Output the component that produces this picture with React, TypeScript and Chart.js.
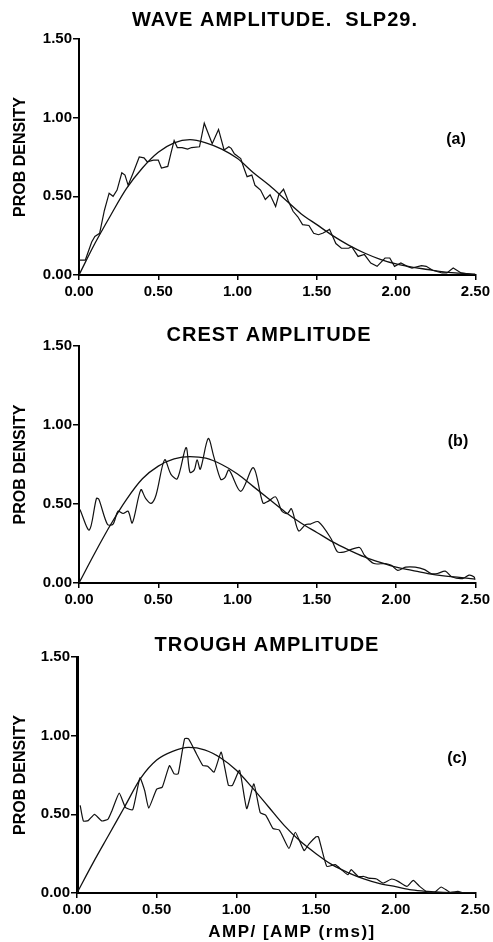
import React, { useEffect, useRef } from 'react';
import { Chart, registerables } from 'chart.js';
Chart.register(...registerables);

const FONT = '"Liberation Sans", Arial, Helvetica, sans-serif';

// ---- shared axis values ----
const X_MIN = 0;
const X_MAX = 2.5;
const Y_MIN = 0;
const Y_MAX = 1.5;
const TICK_STEP = 0.5;

// ---- theoretical (smooth) curve sample positions ----
const smoothX = [0, 0.1, 0.2, 0.3, 0.4, 0.5, 0.6, 0.7, 0.8, 0.9, 1.0, 1.1, 1.2, 1.3, 1.4, 1.5, 1.6, 1.7, 1.8, 1.9, 2.0, 2.1, 2.2, 2.3, 2.4, 2.5];

// ---- (a) wave amplitude ----
const waveX = [0.005, 0.04, 0.08, 0.10, 0.13, 0.16, 0.19, 0.215, 0.24, 0.27, 0.29, 0.31, 0.34, 0.38, 0.41, 0.43, 0.47, 0.50, 0.52, 0.56, 0.58, 0.60, 0.62, 0.65, 0.685, 0.71, 0.76, 0.79, 0.84, 0.88, 0.915, 0.945, 0.96, 0.98, 1.02, 1.04, 1.06, 1.09, 1.11, 1.145, 1.175, 1.205, 1.24, 1.26, 1.29, 1.32, 1.35, 1.38, 1.41, 1.45, 1.48, 1.51, 1.54, 1.58, 1.62, 1.655, 1.70, 1.72, 1.76, 1.80, 1.84, 1.88, 1.93, 1.96, 1.99, 2.03, 2.07, 2.10, 2.16, 2.19, 2.23, 2.29, 2.32, 2.36, 2.41, 2.50];
const waveY = [0.095, 0.095, 0.21, 0.245, 0.265, 0.41, 0.52, 0.50, 0.54, 0.65, 0.635, 0.57, 0.645, 0.75, 0.745, 0.72, 0.73, 0.73, 0.68, 0.69, 0.775, 0.855, 0.81, 0.81, 0.80, 0.81, 0.815, 0.965, 0.835, 0.925, 0.795, 0.815, 0.805, 0.77, 0.74, 0.68, 0.625, 0.635, 0.57, 0.54, 0.48, 0.51, 0.435, 0.51, 0.545, 0.47, 0.405, 0.37, 0.32, 0.315, 0.265, 0.256, 0.267, 0.29, 0.20, 0.17, 0.17, 0.18, 0.118, 0.13, 0.076, 0.055, 0.108, 0.108, 0.055, 0.076, 0.055, 0.044, 0.06, 0.055, 0.03, 0.013, 0.013, 0.044, 0.013, 0.0];
const waveTheory = [0, 0.20, 0.38, 0.55, 0.68, 0.78, 0.84, 0.86, 0.84, 0.80, 0.74, 0.65, 0.57, 0.48, 0.39, 0.32, 0.25, 0.19, 0.14, 0.10, 0.07, 0.05, 0.035, 0.02, 0.012, 0.005];

// ---- (b) crest amplitude ----
const crestX = [0.006, 0.065, 0.11, 0.125, 0.18, 0.215, 0.246, 0.278, 0.31, 0.336, 0.39, 0.42, 0.455, 0.486, 0.54, 0.58, 0.62, 0.675, 0.70, 0.727, 0.745, 0.765, 0.815, 0.85, 0.894, 0.92, 0.946, 1.02, 1.10, 1.16, 1.195, 1.24, 1.28, 1.315, 1.34, 1.385, 1.43, 1.46, 1.51, 1.59, 1.63, 1.675, 1.71, 1.77, 1.80, 1.86, 1.93, 1.97, 2.01, 2.06, 2.12, 2.18, 2.22, 2.26, 2.31, 2.35, 2.42, 2.46, 2.49, 2.50];
const crestY = [0.465, 0.335, 0.535, 0.53, 0.37, 0.373, 0.454, 0.44, 0.454, 0.38, 0.59, 0.536, 0.504, 0.557, 0.78, 0.688, 0.66, 0.857, 0.70, 0.716, 0.78, 0.72, 0.915, 0.80, 0.656, 0.667, 0.715, 0.58, 0.73, 0.507, 0.518, 0.545, 0.454, 0.44, 0.47, 0.33, 0.37, 0.373, 0.388, 0.28, 0.197, 0.197, 0.21, 0.225, 0.176, 0.123, 0.123, 0.112, 0.08, 0.10, 0.10, 0.085, 0.06, 0.06, 0.075, 0.04, 0.028, 0.05, 0.04, 0.02];
const crestTheory = [0, 0.19, 0.37, 0.53, 0.66, 0.74, 0.785, 0.80, 0.79, 0.75, 0.69, 0.61, 0.53, 0.45, 0.38, 0.32, 0.26, 0.21, 0.165, 0.13, 0.10, 0.08, 0.06, 0.045, 0.035, 0.025];

// ---- (c) trough amplitude ----
const troughX = [0.02, 0.04, 0.07, 0.11, 0.155, 0.195, 0.22, 0.265, 0.305, 0.35, 0.395, 0.425, 0.45, 0.50, 0.535, 0.58, 0.61, 0.635, 0.675, 0.70, 0.75, 0.79, 0.82, 0.86, 0.905, 0.95, 0.975, 1.02, 1.065, 1.11, 1.15, 1.185, 1.23, 1.27, 1.33, 1.37, 1.425, 1.455, 1.50, 1.515, 1.567, 1.62, 1.66, 1.70, 1.72, 1.765, 1.80, 1.83, 1.88, 1.92, 1.975, 2.015, 2.07, 2.11, 2.15, 2.20, 2.245, 2.285, 2.34, 2.39, 2.43, 2.50];
const troughY = [0.557, 0.458, 0.46, 0.50, 0.458, 0.47, 0.525, 0.635, 0.542, 0.53, 0.732, 0.65, 0.54, 0.66, 0.673, 0.81, 0.757, 0.757, 0.98, 0.98, 0.884, 0.81, 0.806, 0.768, 0.895, 0.684, 0.684, 0.78, 0.536, 0.694, 0.51, 0.494, 0.41, 0.40, 0.283, 0.386, 0.27, 0.31, 0.357, 0.358, 0.17, 0.18, 0.148, 0.116, 0.148, 0.105, 0.105, 0.095, 0.089, 0.063, 0.089, 0.074, 0.042, 0.08, 0.042, 0.005, 0.005, 0.038, 0.005, 0.01, 0.0, 0.0];
const troughTheory = [0, 0.19, 0.37, 0.55, 0.73, 0.845, 0.90, 0.925, 0.91, 0.86, 0.78, 0.67, 0.55, 0.43, 0.33, 0.25, 0.18, 0.13, 0.09, 0.06, 0.04, 0.02, 0.01, 0.004, 0.001, 0];

const panelTextPlugin = {
  id: 'panelText',
  afterDraw(chart: any, _args: any, opts: any) {
    const ctx = chart.ctx;
    ctx.save();
    ctx.fillStyle = '#000';
    ctx.textAlign = 'center';
    ctx.textBaseline = 'middle';
    ctx.letterSpacing = '1px';
    ctx.font = `bold ${opts.titleSize}px ${FONT}`;
    ctx.fillText(opts.title, opts.titleX, opts.titleY);
    ctx.letterSpacing = '0px';
    ctx.font = `bold ${opts.labelSize}px ${FONT}`;
    ctx.fillText(opts.label, opts.labelX, opts.labelY);
    if (opts.xTitle) {
      ctx.letterSpacing = '1.5px';
      ctx.font = `bold ${opts.xTitleSize}px ${FONT}`;
      ctx.fillText(opts.xTitle, opts.xTitleX, opts.xTitleY);
    }
    ctx.restore();
  },
};

type PanelProps = {
  top: number;
  height: number;
  noisyX: number[];
  noisyY: number[];
  theory: number[];
  title: string;
  label: string;
  titleX: number;
  titleY: number;
  labelX: number;
  labelY: number;
  areaTop: number;
  areaLeft: number;
  xAxisHeight: number;
  xTitle?: string;
  xTitleX?: number;
  xTitleY?: number;
  noisyTension: number;
  yBorderWidth: number;
};

function Panel(p: PanelProps) {
  const ref = useRef<HTMLCanvasElement | null>(null);
  useEffect(() => {
    if (!ref.current) return;
    const tickFont = { family: FONT, size: 15, weight: 'bold' as const };
    const chart = new Chart(ref.current, {
      type: 'line',
      data: {
        datasets: [
          {
            data: p.noisyX.map((x, i) => ({ x, y: p.noisyY[i] })),
            borderColor: '#111',
            borderWidth: 1.2,
            pointRadius: 0,
            fill: false,
            tension: p.noisyTension,
          },
          {
            data: smoothX.map((x, i) => ({ x, y: p.theory[i] })),
            borderColor: '#111',
            borderWidth: 1.3,
            pointRadius: 0,
            fill: false,
            cubicInterpolationMode: 'monotone',
          },
        ],
      },
      options: {
        animation: false,
        responsive: false,
        devicePixelRatio: 1,
        layout: { padding: { top: p.areaTop, right: 15, bottom: 0, left: 0 } },
        plugins: {
          legend: { display: false },
          tooltip: { enabled: false },
          title: { display: false },
          panelText: {
            title: p.title,
            titleX: p.titleX,
            titleY: p.titleY,
            titleSize: 20,
            label: p.label,
            labelX: p.labelX,
            labelY: p.labelY,
            labelSize: 16,
            xTitle: p.xTitle,
            xTitleX: p.xTitleX,
            xTitleY: p.xTitleY,
            xTitleSize: 17,
          },
        } as any,
        scales: {
          x: {
            type: 'linear',
            min: X_MIN,
            max: X_MAX,
            ticks: {
              stepSize: TICK_STEP,
              callback: (v: any) => Number(v).toFixed(2),
              color: '#000',
              font: tickFont,
              padding: 3,
              maxRotation: 0,
            },
            grid: { drawOnChartArea: false, drawTicks: true, tickLength: 5, color: '#000', lineWidth: 1.5 },
            border: { display: true, color: '#000', width: 2 },
            afterFit: (s: any) => {
              s.height = p.xAxisHeight;
            },
          },
          y: {
            type: 'linear',
            min: Y_MIN,
            max: Y_MAX,
            ticks: {
              stepSize: TICK_STEP,
              callback: (v: any) => Number(v).toFixed(2),
              color: '#000',
              font: tickFont,
              padding: 1,
            },
            grid: { drawOnChartArea: false, drawTicks: true, tickLength: 6, color: '#000', lineWidth: 1.5 },
            border: { display: true, color: '#000', width: p.yBorderWidth },
            title: {
              display: true,
              text: 'PROB DENSITY',
              color: '#000',
              font: { family: FONT, size: 16, weight: 'bold' },
              padding: { top: 11, bottom: 0 },
            },
            afterFit: (s: any) => {
              s.width = p.areaLeft;
            },
          },
        },
      },
      plugins: [panelTextPlugin],
    } as any);
    return () => chart.destroy();
  }, []);
  return (
    <canvas
      ref={ref}
      width={493}
      height={p.height}
      style={{ position: 'absolute', left: 0, top: p.top, width: 493, height: p.height }}
    />
  );
}

export default function App() {
  useEffect(() => {
    document.body.style.margin = '0';
    document.body.style.background = '#fff';
  }, []);
  return (
    <div style={{ position: 'relative', width: 493, height: 942, background: '#fff', overflow: 'hidden' }}>
      <Panel
        top={0}
        height={305}
        noisyX={waveX}
        noisyY={waveY}
        theory={waveTheory}
        title="WAVE AMPLITUDE.  SLP29."
        label="(a)"
        titleX={275}
        titleY={20}
        labelX={456}
        labelY={140}
        areaTop={39}
        areaLeft={79}
        xAxisHeight={30}
        noisyTension={0}
        yBorderWidth={2}
      />
      <Panel
        top={305}
        height={310}
        noisyX={crestX}
        noisyY={crestY}
        theory={crestTheory}
        title="CREST AMPLITUDE"
        label="(b)"
        titleX={269}
        titleY={30}
        labelX={458}
        labelY={137}
        areaTop={41}
        areaLeft={79}
        xAxisHeight={32}
        noisyTension={0.3}
        yBorderWidth={2}
      />
      <Panel
        top={615}
        height={327}
        noisyX={troughX}
        noisyY={troughY}
        theory={troughTheory}
        title="TROUGH AMPLITUDE"
        label="(c)"
        titleX={267}
        titleY={30}
        labelX={457}
        labelY={144}
        areaTop={42}
        areaLeft={77}
        xAxisHeight={49}
        xTitle="AMP/ [AMP (rms)]"
        xTitleX={292}
        xTitleY={317}
        noisyTension={0.15}
        yBorderWidth={3}
      />
    </div>
  );
}
